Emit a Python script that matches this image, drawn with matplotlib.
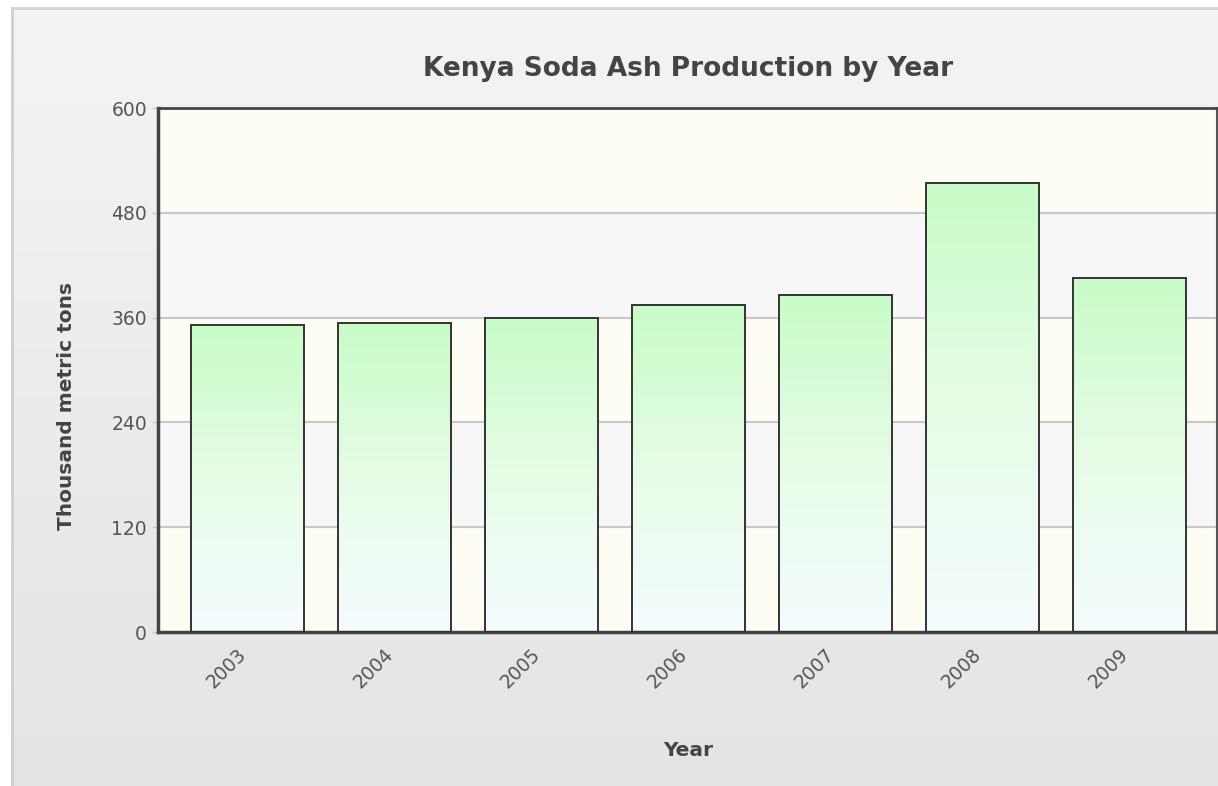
import numpy as np
import matplotlib
matplotlib.use("Agg")
import matplotlib.pyplot as plt
from matplotlib.colors import LinearSegmentedColormap

# data
years = ["2003", "2004", "2005", "2006", "2007", "2008", "2009"]
production = [352, 354, 360, 375, 386, 514, 405]
y_ticks = [0, 120, 240, 360, 480, 600]

title = "Kenya Soda Ash Production by Year"
x_label = "Year"
y_label = "Thousand metric tons"

W, H = 1218, 786
fig = plt.figure(figsize=(W / 100, H / 100), dpi=100)
fig.patch.set_facecolor("white")

# chart panel background (soft vertical gradient)
bg = fig.add_axes([12 / W, 0, 1 - 12 / W, 1 - 8 / H], zorder=0)
bg_cmap = LinearSegmentedColormap.from_list("bg", ["#f4f4f4", "#ececec", "#e4e4e4"])
bg.imshow(np.linspace(0, 1, 256).reshape(-1, 1), aspect="auto", cmap=bg_cmap,
          extent=[0, 1, 0, 1], origin="upper")
bg.set_xlim(0, 1)
bg.set_ylim(0, 1)
for side in ["right", "bottom"]:
    bg.spines[side].set_visible(False)
bg.spines["left"].set_color("#cfcfcf")
bg.spines["left"].set_linewidth(2)
bg.spines["top"].set_color("#d6d6d6")
bg.spines["top"].set_linewidth(2)
bg.set_xticks([])
bg.set_yticks([])

ax = fig.add_axes([158 / W, (H - 632) / H, (1217 - 158) / W, (632 - 108) / H], zorder=1)

# alternating bands in the plot area
band_colors = ["#fdfdf3", "#f7f7f7"]
for i in range(len(y_ticks) - 1):
    ax.axhspan(y_ticks[i], y_ticks[i + 1], color=band_colors[i % 2], zorder=0, lw=0)
for t in y_ticks[1:-1]:
    ax.axhline(t, color="#c8c8c8", lw=1.5, zorder=1)

# bars with a green-to-white gradient
bar_cmap = LinearSegmentedColormap.from_list("bar", ["#f5fbff", "#e6fde6", "#c8fcc8"])
grad = np.linspace(0, 1, 256).reshape(-1, 1)
x = np.arange(len(years))
width = 0.77
bars = ax.bar(x, production, width=width, facecolor="none", edgecolor="#333333",
              linewidth=1.4, zorder=3)
for b in bars:
    x0, y0 = b.get_x(), b.get_y()
    im = ax.imshow(grad, aspect="auto", cmap=bar_cmap, origin="lower",
                   extent=[x0, x0 + b.get_width(), y0, y0 + b.get_height()], zorder=2)
    im.set_clip_path(b)
ax.set_xlim(-0.61, 6.595)
ax.set_ylim(0, 600)

ax.set_yticks(y_ticks)
ax.set_yticklabels([str(t) for t in y_ticks])
ax.set_xticks(x)
ax.set_xticklabels(years, rotation=45, ha="right", va="baseline", rotation_mode="anchor")
ax.tick_params(axis="y", colors="#555555", labelsize=13.5, length=4, width=1, pad=4)
ax.tick_params(axis="y", color="#c8c8c8")
ax.tick_params(axis="x", colors="#555555", labelsize=13.5, length=0, pad=17)

for side in ["left", "bottom"]:
    ax.spines[side].set_color("#444444")
    ax.spines[side].set_linewidth(2.5)
ax.spines["top"].set_color("#444444")
ax.spines["top"].set_linewidth(2)
ax.spines["right"].set_color("#555555")
ax.spines["right"].set_linewidth(1.5)

fig.text(688 / W, 1 - 69 / H, title, ha="center", va="center",
         fontsize=19, fontweight="bold", color="#444444")
fig.text(688 / W, 1 - 751 / H, x_label, ha="center", va="center",
         fontsize=14.5, fontweight="bold", color="#444444")
fig.text(66 / W, 1 - 406 / H, y_label, ha="center", va="center", rotation=90,
         fontsize=14.5, fontweight="bold", color="#444444")

fig.savefig("out.png", dpi=100, facecolor=fig.get_facecolor())
